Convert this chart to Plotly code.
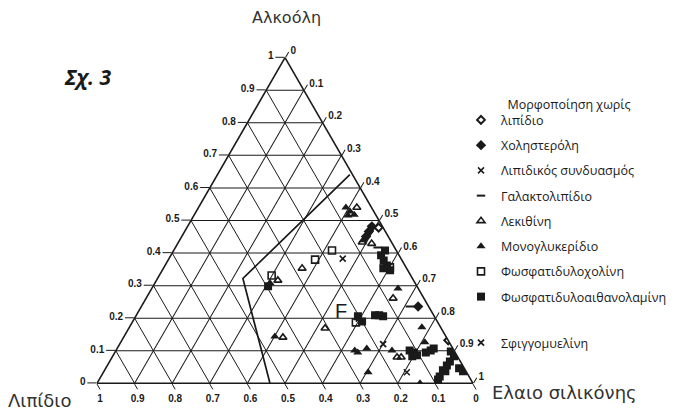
import plotly.graph_objects as go

# Ternary components: alcohol (top, a), lipid (left, b), silicone oil (right, c)
ticks = [0, 0.1, 0.2, 0.3, 0.4, 0.5, 0.6, 0.7, 0.8, 0.9, 1]

boundary_alc = [0.641, 0.322, 0.0]
boundary_lip = [0.007, 0.451, 0.54]
boundary_oil = [0.352, 0.227, 0.46]

nolip_alc = [0.478, 0.132]
nolip_lip = [0.012, 0.0]
nolip_oil = [0.510, 0.868]

chol_alc = [0.482, 0.466, 0.451, 0.236]
chol_lip = [0.028, 0.044, 0.059, 0.028]
chol_oil = [0.490, 0.490, 0.490, 0.736]

combo_alc = [0.383, 0.034]
combo_lip = [0.155, 0.159]
combo_oil = [0.462, 0.807]

galacto_alc = [0.417, 0.236]
galacto_lip = [0.045, 0.050]
galacto_oil = [0.538, 0.714]

lec_alc = [0.540, 0.433, 0.429, 0.261, 0.353, 0.316, 0.141, 0.169, 0.080, 0.080]
lec_lip = [0.039, 0.078, 0.055, 0.082, 0.278, 0.361, 0.435, 0.309, 0.162, 0.151]
lec_oil = [0.421, 0.489, 0.516, 0.657, 0.369, 0.323, 0.424, 0.522, 0.758, 0.769]

mono_alc = [0.540, 0.528, 0.518, 0.515, 0.439, 0.291, 0.307, 0.144, 0.101, 0.095, 0.107, 0.101, 0.034, 0.172, 0.126, 0.000]
mono_lip = [0.068, 0.063, 0.057, 0.075, 0.073, 0.054, 0.386, 0.455, 0.264, 0.259, 0.229, 0.165, 0.262, 0.050, 0.065, 0.141]
mono_oil = [0.392, 0.409, 0.425, 0.410, 0.488, 0.655, 0.307, 0.401, 0.635, 0.646, 0.664, 0.734, 0.704, 0.778, 0.809, 0.859]

pc_alc = [0.408, 0.380, 0.331, 0.356, 0.187]
pc_lip = [0.171, 0.230, 0.370, 0.043, 0.218]
pc_oil = [0.421, 0.390, 0.299, 0.601, 0.595]

pe_alc = [0.393, 0.377, 0.362, 0.353, 0.347, 0.408, 0.298, 0.206, 0.190, 0.209, 0.209, 0.206, 0.101, 0.095,
          0.086, 0.083, 0.095, 0.101, 0.107, 0.098, 0.083, 0.021, 0.040, 0.055, 0.067, 0.037, 0.012, 0.046, 0.037]
pe_lip = [0.048, 0.049, 0.048, 0.062, 0.047, 0.030, 0.396, 0.203, 0.200, 0.156, 0.145, 0.136, 0.118, 0.110,
          0.106, 0.120, 0.078, 0.062, 0.051, 0.010, 0.009, 0.078, 0.060, 0.042, 0.028, 0.055, 0.087, 0.014, 0.008]
pe_oil = [0.559, 0.574, 0.590, 0.585, 0.606, 0.562, 0.306, 0.591, 0.610, 0.635, 0.646, 0.658, 0.781, 0.795,
          0.808, 0.797, 0.827, 0.837, 0.842, 0.892, 0.908, 0.901, 0.900, 0.903, 0.905, 0.908, 0.901, 0.940, 0.955]

sph_alc = [0.120, 0.199]
sph_lip = [0.179, 0.204]
sph_oil = [0.701, 0.597]

INK = "#1a1a1a"
W, H = 677, 411

fig = go.Figure()

fig.add_trace(go.Scatterternary(a=boundary_alc, b=boundary_lip, c=boundary_oil, mode="lines",
                                line=dict(color=INK, width=1.7), showlegend=False, hoverinfo="skip"))

series = [
    ("\u00a0\u00a0Μορφοποίηση χωρίς<br>λιπίδιο", nolip_alc, nolip_lip, nolip_oil,
     dict(symbol="diamond-open", size=6, line=dict(width=2, color=INK), color=INK)),
    ("Χοληστερόλη", chol_alc, chol_lip, chol_oil, dict(symbol="diamond", size=8, color=INK)),
    ("Λιπιδικός συνδυασμός", combo_alc, combo_lip, combo_oil,
     dict(symbol="x-thin-open", size=6, line=dict(width=1.5, color=INK), color=INK)),
    ("Γαλακτολιπίδιο", galacto_alc, galacto_lip, galacto_oil,
     dict(symbol="line-ew-open", size=6, line=dict(width=2, color=INK), color=INK)),
    ("Λεκιθίνη", lec_alc, lec_lip, lec_oil,
     dict(symbol="triangle-up-open", size=7, line=dict(width=1.6, color=INK), color=INK)),
    ("Μονογλυκερίδιο", mono_alc, mono_lip, mono_oil, dict(symbol="triangle-up", size=8, color=INK)),
    ("Φωσφατιδυλοχολίνη", pc_alc, pc_lip, pc_oil,
     dict(symbol="square-open", size=7, line=dict(width=1.6, color=INK), color=INK)),
    ("Φωσφατιδυλοαιθανολαμίνη", pe_alc, pe_lip, pe_oil, dict(symbol="square", size=8, color=INK)),
]

for i, (name, a, b, c, mk) in enumerate(series):
    fig.add_trace(go.Scatterternary(a=a, b=b, c=c, mode="markers", name=name, marker=mk,
                                    legendgroup=f"g{i}", legend="legend"))

fig.add_trace(go.Scatterternary(a=sph_alc, b=sph_lip, c=sph_oil, mode="markers", name="Σφιγγομυελίνη",
                                marker=dict(symbol="x-thin-open", size=6, line=dict(width=1.8, color=INK), color=INK),
                                legend="legend2"))

axis_common = dict(
    tickmode="array", tickvals=ticks, ticks="outside", ticklen=6, tickcolor=INK, tickwidth=1.3,
    tickfont=dict(family="Liberation Sans", size=10, color=INK, weight="bold"),
    showgrid=True, gridcolor=INK, gridwidth=1.2,
    linecolor=INK, linewidth=1.6, min=0, title=dict(text=""),
)
aaxis = dict(axis_common, ticklen=9)

fig.update_layout(
    width=W, height=H,
    margin=dict(l=0, r=0, t=0, b=0),
    paper_bgcolor="white",
    ternary=dict(
        sum=1,
        domain=dict(x=[97 / W, 473 / W], y=[1 - 384 / H, 1 - 57 / H]),
        bgcolor="white",
        aaxis=aaxis, baxis=axis_common, caxis=axis_common,
    ),
    legend=dict(x=461 / W, y=1 - 89 / H, xanchor="left", yanchor="top",
                font=dict(family="Open Sans", size=12.5, color=INK), valign="bottom",
                tracegroupgap=6, bgcolor="rgba(0,0,0,0)"),
    legend2=dict(x=461 / W, y=1 - 328 / H, xanchor="left", yanchor="top",
                 font=dict(family="Open Sans", size=12.5, color=INK),
                 bgcolor="rgba(0,0,0,0)"),
    annotations=[
        dict(text="Αλκοόλη", x=286 / W, y=1 - 18 / H, xref="paper", yref="paper", showarrow=False,
             xanchor="center", yanchor="middle",
             font=dict(family="DejaVu Sans", size=16, color="#333")),
        dict(text="Λιπίδιο", x=39 / W, y=1 - 400 / H, xref="paper", yref="paper", showarrow=False,
             xanchor="center", yanchor="middle",
             font=dict(family="DejaVu Sans", size=18, color="#333")),
        dict(text="Ελαιο σιλικόνης", x=564 / W, y=1 - 392 / H, xref="paper", yref="paper", showarrow=False,
             xanchor="center", yanchor="middle",
             font=dict(family="DejaVu Sans", size=18, color="#333")),
        dict(text="<b><i>Σχ. 3</i></b>", x=87 / W, y=1 - 77 / H, xref="paper", yref="paper", showarrow=False,
             xanchor="center", yanchor="middle",
             font=dict(family="Open Sans", size=21, color=INK)),
        dict(text="F", x=341 / W, y=1 - 311 / H, xref="paper", yref="paper", showarrow=False,
             xanchor="center", yanchor="middle",
             font=dict(family="Liberation Sans", size=20, color=INK)),
    ],
)

fig.write_html("out.html", config={"displayModeBar": False},
               post_script="document.body.style.margin='0';")
